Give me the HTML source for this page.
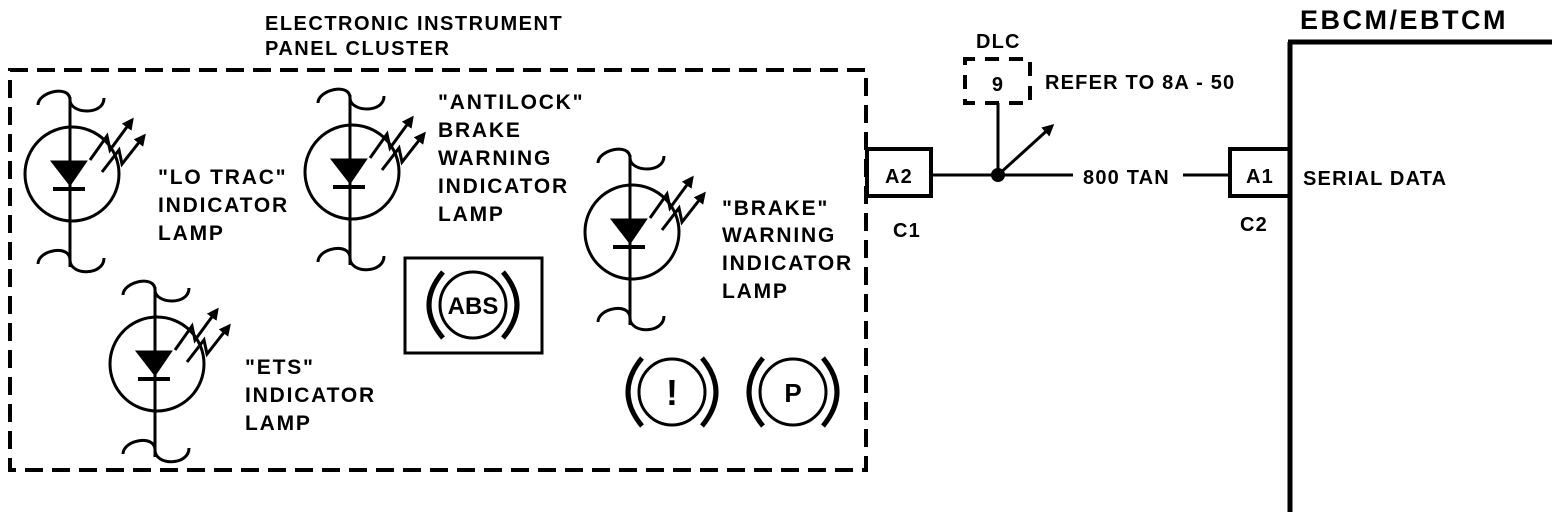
<!DOCTYPE html>
<html><head><meta charset="utf-8"><style>body{margin:0;background:#fff}svg{display:block}text{font-family:"Liberation Sans",sans-serif;font-weight:bold;fill:#000}</style></head><body>
<svg width="1552" height="518" viewBox="0 0 1552 518" xmlns="http://www.w3.org/2000/svg">
<defs>
<marker id="ah" markerWidth="12" markerHeight="12" refX="9" refY="6" orient="auto" markerUnits="userSpaceOnUse"><path d="M0,0 L12,6 L0,12 z" fill="#000"/></marker>
<g id="lamp" fill="none" stroke="#000" stroke-width="3">
<path d="M-32,13 C-32,0 0,-8 0,8 C0,22 34,24 34,6"/>
<line x1="0" y1="5" x2="0" y2="175"/>
<circle cx="2" cy="82" r="47"/>
<path d="M-17,70 L15,70 L0,92 Z" fill="#000"/>
<line x1="-17" y1="97" x2="15" y2="97" stroke-width="4"/>
<path d="M20,68 L37,44 L40,58 L62,28" marker-end="url(#ah)"/>
<path d="M32,80 L49,58 L52,72 L74,44" marker-end="url(#ah)"/>
<path d="M-32,172 C-32,158 0,152 0,168 C0,184 34,184 34,166"/>
</g>
</defs>
<rect x="10" y="70" width="856" height="400" fill="none" stroke="#000" stroke-width="4" stroke-dasharray="18,9"/>
<g font-size="20" letter-spacing="1.5">
<text x="265" y="30">ELECTRONIC INSTRUMENT</text>
<text x="265" y="55">PANEL CLUSTER</text>
</g>
<use href="#lamp" x="70" y="92"/>
<use href="#lamp" x="350" y="90"/>
<use href="#lamp" x="155" y="282"/>
<use href="#lamp" x="630" y="150"/>
<g font-size="21" letter-spacing="1.8">
<text x="158" y="184">"LO TRAC"</text><text x="158" y="212">INDICATOR</text><text x="158" y="240">LAMP</text>
<text x="438" y="109">"ANTILOCK"</text><text x="438" y="137">BRAKE</text><text x="438" y="165">WARNING</text><text x="438" y="193">INDICATOR</text><text x="438" y="221">LAMP</text>
<text x="722" y="215">"BRAKE"</text><text x="722" y="242">WARNING</text><text x="722" y="270">INDICATOR</text><text x="722" y="298">LAMP</text>
<text x="245" y="374">"ETS"</text><text x="245" y="402">INDICATOR</text><text x="245" y="430">LAMP</text>
</g>
<g fill="none" stroke="#000" stroke-width="3">
<rect x="405" y="258" width="137" height="95"/>
<circle cx="473" cy="305" r="33"/>
<path d="M443,272 Q415,305 443,338" stroke-width="5"/>
<path d="M503,272 Q531,305 503,338" stroke-width="5"/>
<circle cx="672" cy="392" r="33"/>
<path d="M642,358 Q614,392 642,426" stroke-width="5"/>
<path d="M702,358 Q730,392 702,426" stroke-width="5"/>
<circle cx="793" cy="392" r="33"/>
<path d="M763,358 Q735,392 763,426" stroke-width="5"/>
<path d="M823,358 Q851,392 823,426" stroke-width="5"/>
</g>
<text x="473" y="314" font-size="24" text-anchor="middle">ABS</text>
<text x="672" y="405" font-size="36" text-anchor="middle">!</text>
<text x="793" y="402" font-size="26" text-anchor="middle">P</text>
<g fill="none" stroke="#000" stroke-width="3">
<rect x="867" y="149" width="64" height="47" stroke-width="4"/>
<line x1="931" y1="175" x2="1073" y2="175"/>
<line x1="1183" y1="175" x2="1230" y2="175"/>
<rect x="1230" y="149" width="60" height="47" stroke-width="4"/>
<line x1="1290" y1="42" x2="1290" y2="512" stroke-width="5"/>
<line x1="1288" y1="42" x2="1552" y2="42" stroke-width="5"/>
<rect x="965" y="59" width="65" height="44" stroke-width="4" stroke-dasharray="14,10" stroke-dashoffset="4"/>
<line x1="998" y1="103" x2="998" y2="175"/>
<line x1="998" y1="175" x2="1052" y2="126" marker-end="url(#ah)"/>
</g>
<circle cx="998" cy="175" r="7" fill="#000"/>
<g font-size="20" letter-spacing="1.2">
<text x="899" y="183" text-anchor="middle">A2</text>
<text x="1260" y="183" text-anchor="middle">A1</text>
<text x="893" y="237">C1</text>
<text x="1240" y="231">C2</text>
<text x="1083" y="184">800 TAN</text>
<text x="1303" y="185">SERIAL DATA</text>
<text x="976" y="48">DLC</text>
<text x="998" y="91" text-anchor="middle">9</text>
<text x="1045" y="89">REFER TO 8A - 50</text>
</g>
<text x="1300" y="29" font-size="27" letter-spacing="2.5">EBCM/EBTCM</text>
</svg>
</body></html>
